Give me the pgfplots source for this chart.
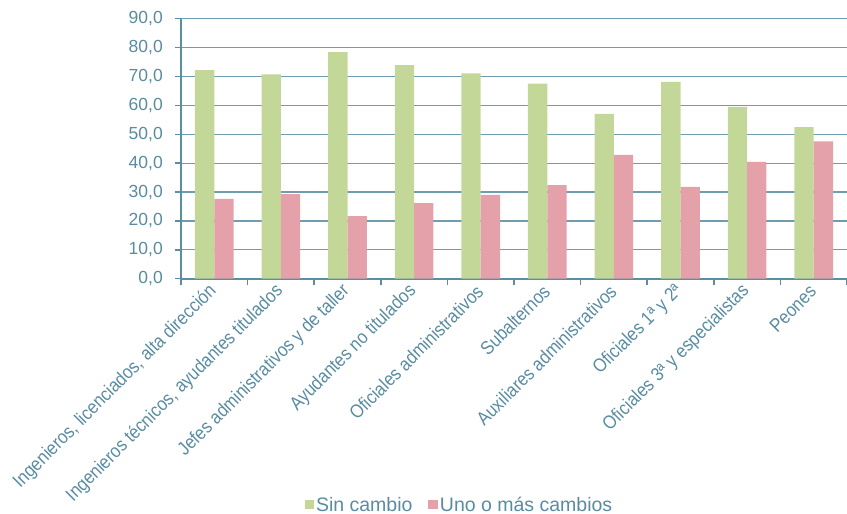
\documentclass[border=0pt]{standalone}
\usepackage{pgfplots}
\pgfplotsset{compat=1.18}
\usepackage{fontspec}
\setmainfont{Liberation Sans}
\newfontfamily\condfont[FakeStretch=0.88]{Liberation Sans}
\definecolor{txtblue}{RGB}{88,140,160}
\definecolor{axblue}{RGB}{90,142,162}
\definecolor{gridblue}{RGB}{110,156,176}
\definecolor{barg}{RGB}{195,216,152}
\definecolor{barp}{RGB}{229,161,169}
\begin{document}
\begin{tikzpicture}
\begin{axis}[
  at={(0,0)}, anchor=south west,
  scale only axis,
  width=666bp, height=260bp,
  xmin=-0.5, xmax=9.5,
  ymin=0, ymax=90,
  ytick={0,10,...,90},
  xtick={0,...,9},
  xticklabels={
    {Ingenieros, licenciados, alta dirección},
    {Ingenieros técnicos, ayudantes titulados},
    {Jefes administrativos y de taller},
    {Ayudantes no titulados},
    {Oficiales administrativos},
    {Subalternos},
    {Auxiliares administrativos},
    {Oficiales 1ª y 2ª},
    {Oficiales 3ª y especialistas},
    {Peones}},
  minor xtick={-0.5,0.5,...,9.5},
  major x tick style={draw=none},
  minor x tick style={axblue, line width=1.5bp},
  major y tick style={axblue, line width=1.5bp},
  tick align=outside,
  major tick length=6bp,
  minor tick length=6bp,
  axis x line*=bottom,
  axis y line*=left,
  axis line style={axblue, line width=2bp, -},
  ymajorgrids,
  grid style={gridblue, line width=1.2bp},
  ybar=0pt,
  bar width=0.29,
  tick label style={text=txtblue},
  yticklabel style={font=\fontsize{17.5bp}{20bp}\selectfont, inner sep=0bp, xshift=-12bp},
  xticklabel style={font=\condfont\fontsize{19bp}{21bp}\selectfont, rotate=45, anchor=east, inner sep=3bp, yshift=-2bp},
  /pgf/number format/.cd, fixed, fixed zerofill, precision=1, use comma, assume math mode=true,
  /pgfplots/.cd,
  legend style={at={(0.418,-0.87)}, anchor=center, draw=none, fill=none,
    legend columns=2, font=\fontsize{19.5bp}{22bp}\selectfont, text=txtblue,
    /tikz/every even column/.append style={column sep=14bp}},
  legend image code/.code={\fill[#1] (0bp,-4.5bp) rectangle (9.5bp,5bp);},
]
\addplot[fill=barg, draw=none] coordinates {
(0,72.2) (1,70.7) (2,78.4) (3,73.9) (4,71.1) (5,67.5) (6,57.1) (7,68.1) (8,59.5) (9,52.5)};
\addplot[fill=barp, draw=none] coordinates {
(0,27.6) (1,29.3) (2,21.7) (3,26.2) (4,29.0) (5,32.4) (6,42.9) (7,31.8) (8,40.4) (9,47.5)};
\legend{Sin cambio, Uno o más cambios}
\end{axis}
\pgfresetboundingbox
\useasboundingbox (-181bp,-235.3bp) rectangle (666bp,278.7bp);
\end{tikzpicture}
\end{document}
